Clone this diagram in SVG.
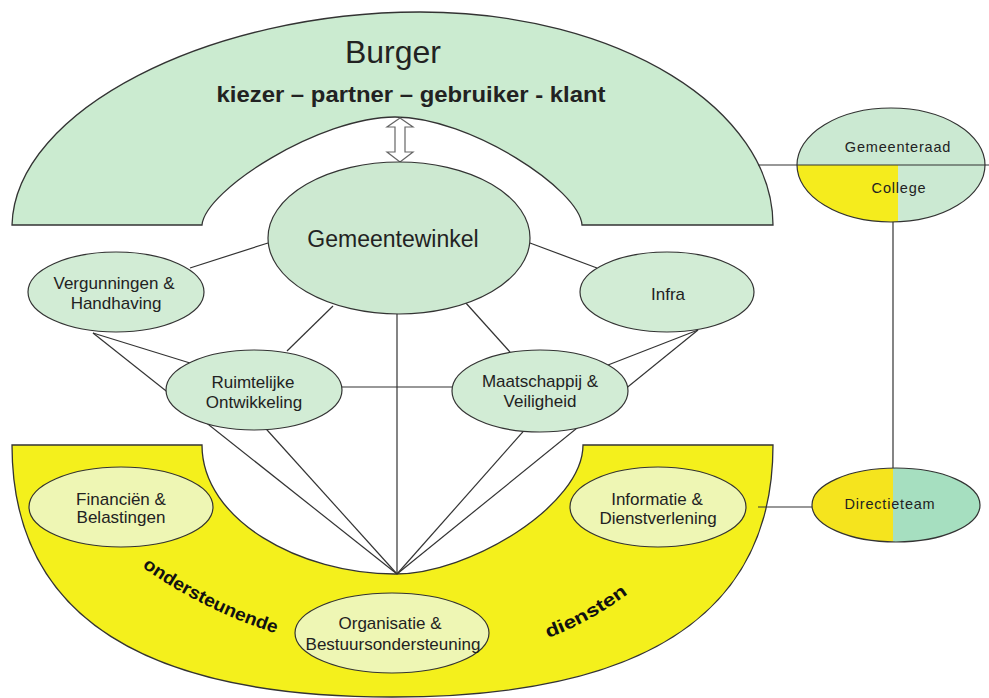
<svg xmlns="http://www.w3.org/2000/svg" width="989" height="698" viewBox="0 0 989 698">
<style>
.t{font-family:"Liberation Sans",Arial,sans-serif;fill:#222;text-anchor:middle}
.lbl{font-size:17px}
.node{stroke:#333;stroke-width:1.2}
.g{fill:#d2ecd5}
.y{fill:#eef6b4}
.conn line{stroke:#333;stroke-width:1.2}
.sm{font-family:"Liberation Sans",Arial,sans-serif;font-size:14.5px;fill:#222;text-anchor:middle;letter-spacing:0.8px}
.arc{font-family:"Liberation Sans",Arial,sans-serif;font-weight:bold;font-size:18px;fill:#111}
</style>
<defs>
<clipPath id="cpGR"><ellipse cx="891" cy="165" rx="94" ry="57"/></clipPath>
<clipPath id="cpDT"><ellipse cx="896" cy="505" rx="84" ry="37"/></clipPath>
<path id="pOnd" d="M 142,567 Q 205,612 284,636"/>
<path id="pDie" d="M 548,638 Q 592,622 636,588"/>
</defs>
<rect width="989" height="698" fill="#ffffff"/>

<g id="burger">
<path d="M 12,225 C 15,110 210,12 420,12 C 620,12 773,110 773,225 L 582,225 C 580,190 470,117 395,117 C 320,117 205,190 202,225 Z" fill="#cbebd0" stroke="#333" stroke-width="1.3"/>
<text class="t" x="393" y="63" font-size="32">Burger</text>
<text class="t" x="411" y="102" font-size="22" font-weight="bold" fill="#111" textLength="389" lengthAdjust="spacingAndGlyphs">kiezer – partner – gebruiker - klant</text>
</g>

<g id="ondersteunende-diensten">
<path d="M 12,445 L 202,445 C 202,520 300,574 395,574 C 470,574 583,505 583,445 L 773,445 C 773,620 634,697 392,697 C 150,697 12,620 12,445 Z" fill="#f4f01c" stroke="#333" stroke-width="1.3"/>
<text class="arc"><textPath href="#pOnd" textLength="150" lengthAdjust="spacingAndGlyphs">ondersteunende</textPath></text>
<text class="arc"><textPath href="#pDie" textLength="92" lengthAdjust="spacingAndGlyphs">diensten</textPath></text>
</g>

<g id="double-arrow">
<polygon points="400,118 413,127 405,127 405,152 413,152 400,162 387,152 395,152 395,127 387,127" fill="#ffffff" stroke="#666" stroke-width="1.2"/>
</g>

<g id="connectors" class="conn">
<line x1="268" y1="243" x2="190" y2="268"/>
<line x1="530" y1="243" x2="597" y2="268"/>
<line x1="333" y1="306" x2="287" y2="351"/>
<line x1="465" y1="302" x2="510" y2="352"/>
<line x1="397" y1="314" x2="397" y2="574"/>
<line x1="342" y1="387" x2="452" y2="387"/>
<line x1="93" y1="333" x2="190" y2="363"/>
<line x1="93" y1="333" x2="397" y2="574"/>
<line x1="231" y1="390" x2="397" y2="574"/>
<line x1="698" y1="330" x2="608" y2="365"/>
<line x1="698" y1="330" x2="397" y2="574"/>
<line x1="560" y1="390" x2="397" y2="574"/>
<line x1="758" y1="165" x2="989" y2="165"/>
<line x1="893" y1="222" x2="893" y2="468"/>
<line x1="758" y1="507" x2="812" y2="507"/>
</g>

<g id="gemeentewinkel">
<ellipse class="node" cx="399" cy="238" rx="131" ry="76" fill="#cde9d1"/>
<text class="t" x="393" y="247" font-size="23">Gemeentewinkel</text>
</g>

<g id="vergunningen">
<ellipse class="node g" cx="116" cy="292" rx="88" ry="40"/>
<text class="t lbl" x="114" y="289">Vergunningen &amp;</text>
<text class="t lbl" x="116" y="309">Handhaving</text>
</g>

<g id="infra">
<ellipse class="node g" cx="667" cy="292" rx="87" ry="40"/>
<text class="t lbl" x="668" y="300">Infra</text>
</g>

<g id="ruimtelijke">
<ellipse class="node g" cx="254" cy="390" rx="88" ry="40"/>
<text class="t lbl" x="253" y="388">Ruimtelijke</text>
<text class="t lbl" x="254" y="408">Ontwikkeling</text>
</g>

<g id="maatschappij">
<ellipse class="node g" cx="540" cy="391" rx="88" ry="41"/>
<text class="t lbl" x="540" y="387">Maatschappij &amp;</text>
<text class="t lbl" x="540" y="407">Veiligheid</text>
</g>

<g id="financien">
<ellipse class="node y" cx="121" cy="507" rx="92" ry="40"/>
<text class="t lbl" x="121" y="505">Financiën &amp;</text>
<text class="t lbl" x="121" y="523">Belastingen</text>
</g>

<g id="informatie">
<ellipse class="node y" cx="658" cy="507" rx="88" ry="40"/>
<text class="t lbl" x="657" y="505">Informatie &amp;</text>
<text class="t lbl" x="658" y="524">Dienstverlening</text>
</g>

<g id="organisatie">
<ellipse class="node y" cx="392" cy="633" rx="97" ry="40"/>
<text class="t lbl" x="390" y="629">Organisatie &amp;</text>
<text class="t lbl" x="393" y="650">Bestuursondersteuning</text>
</g>

<g id="gemeenteraad-college">
<ellipse cx="891" cy="165" rx="94" ry="57" fill="#cbe9d2"/>
<rect x="790" y="165" width="108" height="65" fill="#f5ec1d" clip-path="url(#cpGR)"/>
<line x1="797" y1="165" x2="985" y2="165" stroke="#333" stroke-width="1.2"/>
<ellipse class="node" cx="891" cy="165" rx="94" ry="57" fill="none"/>
<text class="sm" x="898" y="152">Gemeenteraad</text>
<text class="sm" x="899" y="193">College</text>
</g>

<g id="directieteam">
<rect x="810" y="465" width="83" height="80" fill="#f5e41e" clip-path="url(#cpDT)"/>
<rect x="893" y="465" width="90" height="80" fill="#a6dfc0" clip-path="url(#cpDT)"/>
<ellipse class="node" cx="896" cy="505" rx="84" ry="37" fill="none"/>
<text class="sm" x="890" y="509">Directieteam</text>
</g>
</svg>
